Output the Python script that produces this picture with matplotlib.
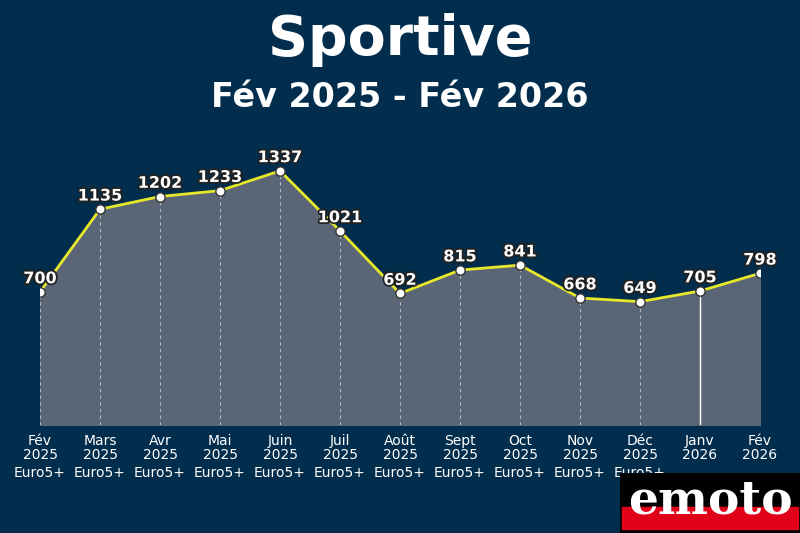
import matplotlib
matplotlib.use("Agg")
import matplotlib.pyplot as plt
import matplotlib.patheffects as pe
from matplotlib.patches import Rectangle

months = ["Fév\n2025", "Mars\n2025", "Avr\n2025", "Mai\n2025", "Juin\n2025", "Juil\n2025", "Août\n2025",
          "Sept\n2025", "Oct\n2025", "Nov\n2025", "Déc\n2025", "Janv\n2026", "Fév\n2026"]
norms = ["Euro5+"] * 11 + ["", ""]
values = [700, 1135, 1202, 1233, 1337, 1021, 692, 815, 841, 668, 649, 705, 798]

bg = "#022d4d"
fig = plt.figure(figsize=(8, 5.33), dpi=100, facecolor=bg)
ax = fig.add_axes([0.05, 0.2026, 0.9, 0.535])
ax.set_facecolor(bg)
x = list(range(len(values)))
ax.fill_between(x, values, 0, color="#5a6676", zorder=1)
for i, v in zip(x, values):
    ax.plot([i, i], [0, v], ls=(0, (3, 3)), color="#b0b8c2", lw=0.8, zorder=2)
ax.plot([11, 11], [0, values[11]], color="white", lw=1, zorder=2)
ax.plot(x, values, color="#e8e82a", lw=2, zorder=3)
ax.scatter(x, values, s=45, color="white", edgecolor="#333333", linewidth=1, zorder=4)
for i, v in zip(x, values):
    ax.text(i, v + 30, str(v), ha="center", va="bottom", color="white", fontsize=11.5, fontweight="bold",
            path_effects=[pe.withStroke(linewidth=2.5, foreground="#222222")])
ax.set_xlim(0, 12)
ax.set_ylim(0, 1500)
ax.axis("off")
for i in x:
    ax.text(i, -45, months[i], ha="center", va="top", color="white", fontsize=10, linespacing=1.0)
    ax.text(i, -215, norms[i], ha="center", va="top", color="white", fontsize=10)

fig.text(0.5, 0.925, "Sportive", ha="center", va="center", color="white", fontsize=40, fontweight="bold")
fig.text(0.5, 0.818, "Fév 2025 - Fév 2026", ha="center", va="center", color="white", fontsize=24, fontweight="bold")

lax = fig.add_axes([620/800, 0, 180/800, 60/533])
lax.set_xlim(0, 1); lax.set_ylim(0, 1); lax.axis("off")
lax.add_patch(Rectangle((0, 0), 1, 1, color="black"))
lax.add_patch(Rectangle((0.01, 0.06), 0.98, 0.38, color="#e0001a"))
lax.text(0.5, 0.55, "emoto", ha="center", va="center", color="white", fontsize=34, fontweight="bold",
         family="DejaVu Serif")

fig.savefig("out.png", dpi=100, facecolor=bg)
